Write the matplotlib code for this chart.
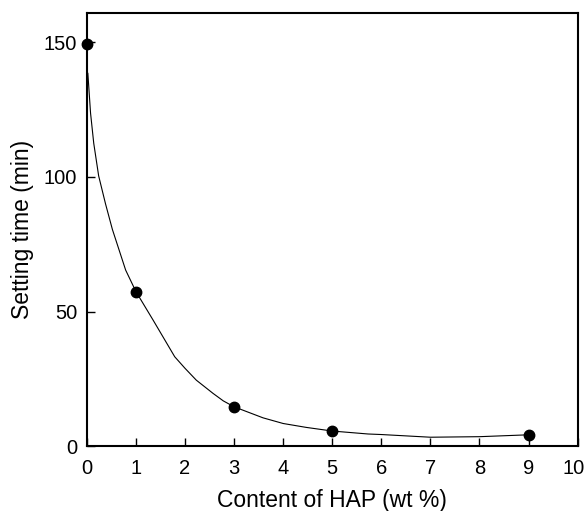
import matplotlib
matplotlib.use("Agg")
import matplotlib.pyplot as plt
from matplotlib.transforms import ScaledTranslation

# measured points
hap_content = [0, 1, 3, 5, 9]
setting_time = [149.5, 57.4, 14.6, 5.6, 4.2]

# fitted curve
curve_x = [0.02, 0.075, 0.14, 0.24, 0.38, 0.52, 0.79, 1.0, 1.35, 1.79, 2.0, 2.23,
           2.57, 2.78, 3.0, 3.59, 4.0, 4.47, 5.0, 5.73, 6.0, 7.0, 8.0, 9.0]
curve_y = [138.5, 123.7, 112.5, 100.4, 90.0, 80.5, 65.4, 57.4, 46.8, 33.2, 28.9, 24.5,
           19.6, 16.8, 14.6, 10.5, 8.4, 6.95, 5.6, 4.5, 4.3, 3.3, 3.5, 4.2]

x_ticks = list(range(0, 11))
y_ticks = [0, 50, 100, 150]

plt.rcParams['font.family'] = ['Liberation Sans', 'DejaVu Sans']

fig = plt.figure(figsize=(5.87, 5.11), dpi=100)
ax = fig.add_axes([0.148, 0.127, 0.836, 0.848])

ax.plot(curve_x, curve_y, color='black', linewidth=0.8)
ax.plot(hap_content, setting_time, 'o', color='black', markersize=7.5, clip_on=False, zorder=5)

ax.set_xlim(0, 10)
ax.set_ylim(0, 161)
ax.set_xticks(x_ticks)
ax.set_yticks(y_ticks)
ax.tick_params(direction='in', length=6, width=1, labelsize=14.5)
ax.tick_params(axis='x', pad=9)
ax.tick_params(axis='y', pad=7)
for s in ax.spines.values():
    s.set_linewidth(1.5)

# the last label sits right at the figure edge, nudge it in a bit
last = ax.get_xticklabels()[-1]
last.set_transform(last.get_transform() + ScaledTranslation(-3 / 72, 0, fig.dpi_scale_trans))

ax.set_xlabel('Content of HAP (wt %)', fontsize=16.5, labelpad=8)
ax.set_ylabel('Setting time (min)', fontsize=16.5, labelpad=7)

fig.savefig('out.png', dpi=100)
